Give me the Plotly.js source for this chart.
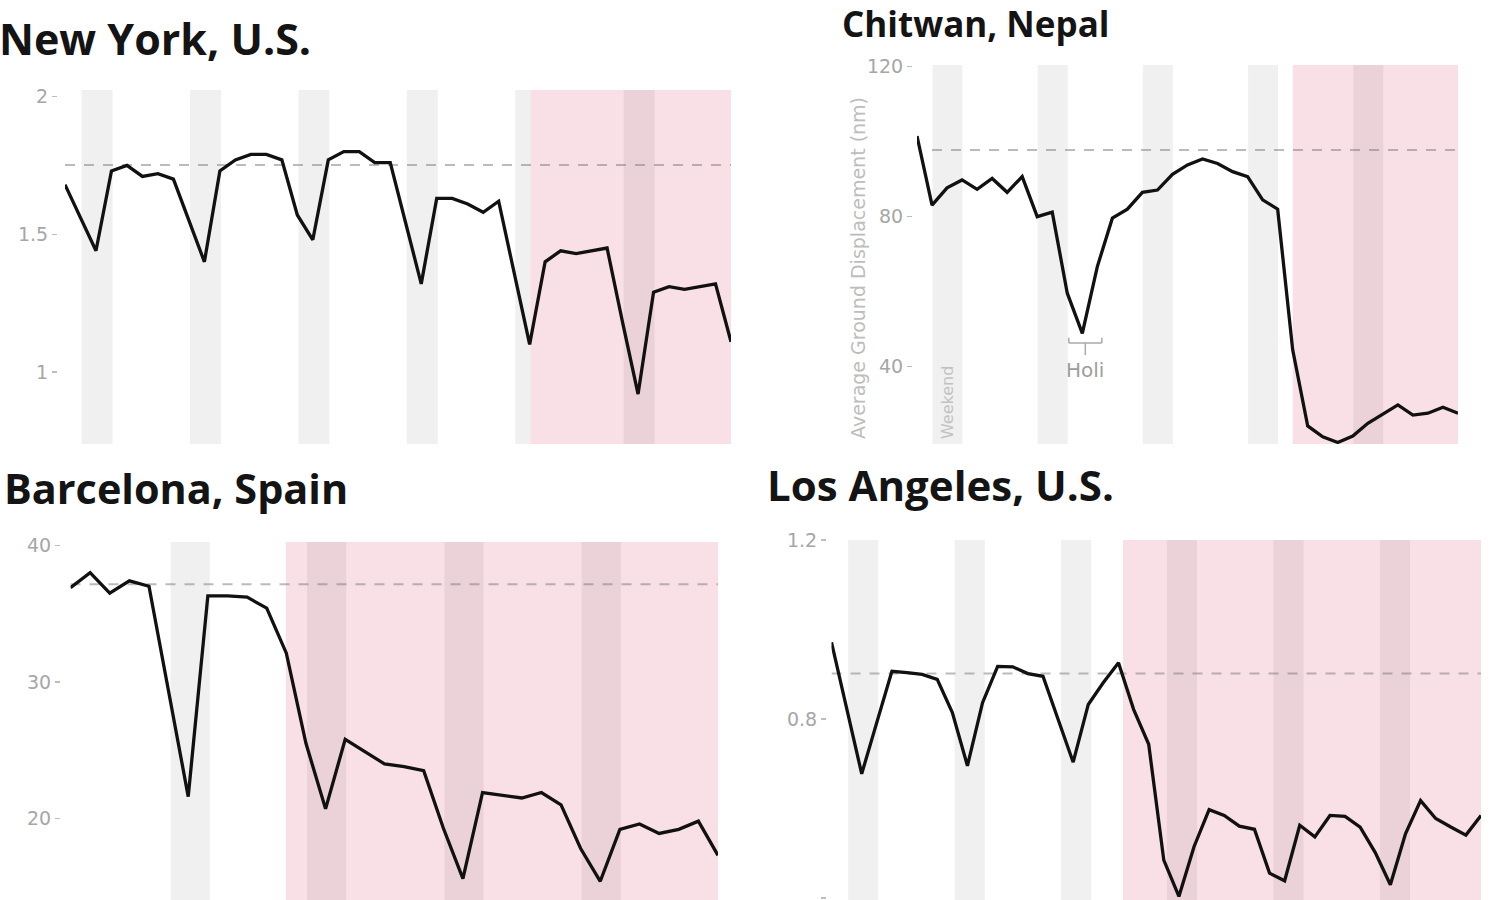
<!DOCTYPE html>
<html>
<head>
<meta charset="utf-8">
<script src="https://cdn.plot.ly/plotly-3.0.1.min.js"></script>
<style>
html, body { margin:0; padding:0; background:#fff; width:1500px; height:900px; overflow:hidden; }
.panel { position:absolute; overflow:hidden; }
</style>
</head>
<body>
<div id="ny" class="panel" style="left:0px;top:0px;width:750px;height:444px"></div>
<div id="ch" class="panel" style="left:750px;top:0px;width:750px;height:444px"></div>
<div id="bc" class="panel" style="left:0px;top:450px;width:750px;height:450px"></div>
<div id="la" class="panel" style="left:750px;top:450px;width:750px;height:450px"></div>
<script>
// ---------------- data ----------------
const nyTitle = 'New York, U.S.';
const nyValues = [1.68,1.56,1.44,1.73,1.75,1.71,1.72,1.70,1.55,1.40,1.73,1.77,1.79,1.79,1.77,1.57,1.48,1.77,1.80,1.80,1.76,1.76,1.54,1.32,1.63,1.63,1.61,1.58,1.62,1.36,1.10,1.40,1.44,1.43,1.44,1.45,1.18,0.92,1.29,1.31,1.30,1.31,1.32,1.11];
const nyBaseline = 1.751;
const nyWeekends = [1.07, 8.07, 15.07, 22.07, 29.07, 36.07];
const nyLockdown = 30.05;
const nyTicks = [1, 1.5, 2];
const nyTickText = ['1', '1.5', '2'];

const chTitle = 'Chitwan, Nepal';
const chValues = [101.5,83.1,87.7,89.8,87.3,90.2,86.5,90.7,80.0,81.2,59.6,48.9,66.7,79.6,82.0,86.5,87.1,91.3,93.8,95.4,94.2,92.0,90.7,84.5,82.0,44.5,24.2,21.3,19.8,21.5,24.9,27.3,29.8,27.1,27.6,29.2,27.6];
const chBaseline = 97.8;
const chBaselineStart = 1.0;
const chWeekends = [1.03, 8.03, 15.03, 22.03, 29.03];
const chLockdown = 25.0;
const chTicks = [40, 80, 120];
const chTickText = ['40', '80', '120'];
const chYTitle = 'Average Ground Displacement (nm)';
const chWeekendLabel = 'Weekend';
const chHoliLabel = 'Holi';
const chHoliFrom = 10.1, chHoliTo = 12.3;

const bcTitle = 'Barcelona, Spain';
const bcValues = [36.9,38.0,36.5,37.4,37.0,29.3,21.6,36.3,36.3,36.2,35.4,32.1,25.5,20.7,25.8,24.9,24.0,23.8,23.5,19.3,15.6,21.9,21.7,21.5,21.9,21.0,17.8,15.4,19.2,19.6,18.9,19.2,19.8,17.3];
const bcBaseline = 37.15;
const bcWeekends = [5.1, 12.05, 19.05, 26.05];
const bcLockdown = 10.97;
const bcTicks = [20, 30, 40];
const bcTickText = ['20', '30', '40'];

const laTitle = 'Los Angeles, U.S.';
const laValues = [0.972,0.825,0.678,0.793,0.907,0.904,0.900,0.889,0.815,0.696,0.837,0.918,0.917,0.902,0.896,0.800,0.704,0.833,0.882,0.926,0.822,0.744,0.485,0.404,0.515,0.598,0.585,0.561,0.554,0.456,0.439,0.563,0.537,0.585,0.583,0.559,0.502,0.430,0.544,0.618,0.578,0.559,0.541,0.585];
const laBaseline = 0.902;
const laWeekends = [1.1, 8.15, 15.2, 22.2, 29.25, 36.3];
const laLockdown = 19.3;
const laTicks = [0.4, 0.8, 1.2];
const laTickText = ['0.4', '0.8', '1.2'];

const weekendLength = 2;

// ---------------- styles ----------------
const FONT = '"DejaVu Sans", sans-serif';
const TITLE_FONT = '"Open Sans", sans-serif';
const PINK = '#f9e0e6';
const WEEKEND_FILL = 'rgba(0,0,0,0.06)';
const LINE_COLOR = '#111111';
const DASH_COLOR = 'rgba(120,120,120,0.5)';
const TICK_COLOR = '#a6a6a6';

function buildPanel(divId, g, d) {
  const pw = g.W - g.l - g.r, ph = g.H - g.t - g.b;
  const px = x => (x - g.l) / pw;
  const py = y => (g.H - g.b - y) / ph;

  const band = s => ({type:'rect', xref:'x', yref:'paper', x0:s, x1:s + weekendLength,
                      y0:0, y1:1, fillcolor:WEEKEND_FILL, line:{width:0}, layer:'below'});
  const shapes = [];
  // ordinary weekends (before the lockdown), then the lockdown shading, then weekends inside the lockdown
  d.weekends.filter(s => s < d.lockdown).forEach(s => shapes.push(band(s)));
  shapes.push({type:'rect', xref:'x', yref:'paper', x0:d.lockdown, x1:d.xRange[1] + 1, y0:0, y1:1,
               fillcolor:PINK, line:{width:0}, layer:'below'});
  d.weekends.filter(s => s >= d.lockdown).forEach(s => shapes.push(band(s)));
  shapes.push({type:'line', xref:'x', yref:'y', x0:d.baseStart, x1:d.xRange[1], y0:d.baseline, y1:d.baseline,
               line:{color:DASH_COLOR, width:2, dash:'10px,9px'}, layer:'below'});
  (d.extraShapes || []).forEach(s => shapes.push(s));

  const annotations = [{
    xref:'paper', yref:'paper', x:px(g.titleX), y:py(g.titleY), xanchor:'left', yanchor:'middle',
    text:d.title, showarrow:false,
    font:{family:TITLE_FONT, size:g.titleSize, color:'#141414', weight:700}
  }].concat((d.extraAnn || []).map(a => a(px, py)));

  const layout = {
    width:g.W, height:g.H,
    margin:{l:g.l, r:g.r, t:g.t, b:g.b, pad:0},
    paper_bgcolor:'#ffffff', plot_bgcolor:'rgba(0,0,0,0)',
    showlegend:false,
    xaxis:{domain:[(g.plotLeft - g.l) / pw, 1], range:d.xRange, visible:false, fixedrange:true},
    yaxis:{range:d.yRange, anchor:'free', position:0, tickmode:'array', tickvals:d.ticks, ticktext:d.tickText,
           ticks:'outside', ticklen:5, tickwidth:1.5, tickcolor:'#bdbdbd',
           tickfont:{family:FONT, size:19, color:TICK_COLOR},
           showgrid:false, zeroline:false, showline:false, fixedrange:true},
    shapes:shapes,
    annotations:annotations
  };
  const traces = [{type:'scatter', mode:'lines', y:d.values, line:{color:LINE_COLOR, width:3.3}, hoverinfo:'skip'}];
  Plotly.newPlot(divId, traces, layout, {staticPlot:true, displayModeBar:false});
}

// New York
buildPanel('ny',
  {W:750, H:444, l:57, r:19, t:90, b:0, plotLeft:65, titleX:-3, titleY:38, titleSize:43},
  {title:nyTitle, values:nyValues, baseline:nyBaseline, baseStart:0, weekends:nyWeekends, lockdown:nyLockdown,
   ticks:nyTicks, tickText:nyTickText, xRange:[0, nyValues.length - 1], yRange:[0.7387, 2.0236]});

// Chitwan
const holiY = 46.3;
buildPanel('ch',
  {W:750, H:444, l:162, r:42, t:65, b:0, plotLeft:167, titleX:90, titleY:24, titleSize:35},
  {title:chTitle, values:chValues, baseline:chBaseline, baseStart:chBaselineStart, weekends:chWeekends, lockdown:chLockdown,
   ticks:chTicks, tickText:chTickText, xRange:[0, chValues.length - 1], yRange:[19.39, 120.45],
   extraShapes:[
     {type:'line', xref:'x', yref:'y', x0:chHoliFrom, x1:chHoliTo, y0:holiY, y1:holiY, line:{color:'#aaaaaa', width:1.5}},
     {type:'line', xref:'x', yref:'y', x0:chHoliFrom, x1:chHoliFrom, y0:holiY, y1:holiY + 1.4, line:{color:'#aaaaaa', width:1.5}},
     {type:'line', xref:'x', yref:'y', x0:chHoliTo, x1:chHoliTo, y0:holiY, y1:holiY + 1.4, line:{color:'#aaaaaa', width:1.5}},
     {type:'line', xref:'x', yref:'y', x0:(chHoliFrom + chHoliTo) / 2, x1:(chHoliFrom + chHoliTo) / 2, y0:holiY, y1:holiY - 3.2, line:{color:'#aaaaaa', width:1.5}}
   ],
   extraAnn:[
     (px, py) => ({xref:'paper', yref:'paper', x:px(108), y:py(441), xanchor:'center', yanchor:'bottom', textangle:-90,
                   text:chYTitle, showarrow:false, font:{family:FONT, size:19, color:'#bdbdbd'}}),
     (px, py) => ({xref:'x', yref:'paper', x:chWeekends[0] + weekendLength / 2, y:py(441), xanchor:'center', yanchor:'bottom', textangle:-90,
                   text:chWeekendLabel, showarrow:false, font:{family:FONT, size:16, color:'#c2c2c2'}}),
     (px, py) => ({xref:'x', yref:'y', x:(chHoliFrom + chHoliTo) / 2, y:39.1, xanchor:'center', yanchor:'middle',
                   text:chHoliLabel, showarrow:false, font:{family:FONT, size:20, color:'#9d9d9d'}})
   ]});

// Barcelona
buildPanel('bc',
  {W:750, H:450, l:60, r:32, t:91.7, b:0, plotLeft:70.5, titleX:2, titleY:38, titleSize:41.4},
  {title:bcTitle, values:bcValues, baseline:bcBaseline, baseStart:0, weekends:bcWeekends, lockdown:bcLockdown,
   ticks:bcTicks, tickText:bcTickText, xRange:[0, bcValues.length - 1], yRange:[14.03, 40.24]});

// Los Angeles
buildPanel('la',
  {W:750, H:450, l:76, r:19, t:90, b:0, plotLeft:81.5, titleX:15, titleY:34, titleSize:42},
  {title:laTitle, values:laValues, baseline:laBaseline, baseStart:0, weekends:laWeekends, lockdown:laLockdown,
   ticks:laTicks, tickText:laTickText, xRange:[0, laValues.length - 1], yRange:[0.396, 1.2005]});
</script>
</body>
</html>
